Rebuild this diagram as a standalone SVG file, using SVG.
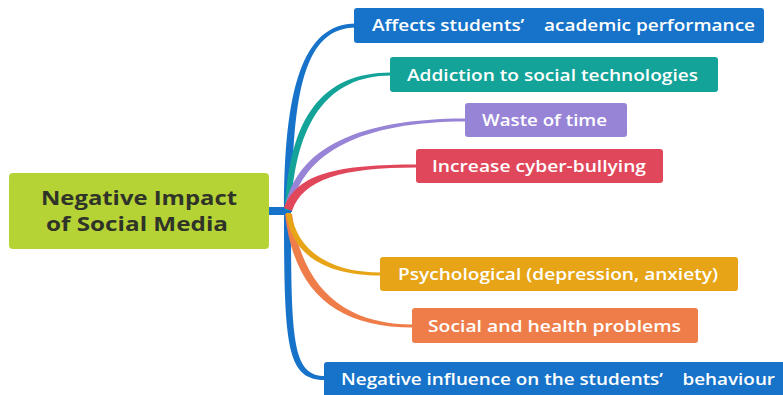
<svg xmlns="http://www.w3.org/2000/svg" width="783" height="395" viewBox="0 0 783 395">
  <style>
    .node-box { stroke: none; }
    .label { font-family: "Open Sans", "Noto Sans", "Liberation Sans", sans-serif; font-weight: 600; font-size: 16px; fill: #ffffff; }
    .root-label { font-family: "Open Sans", "Noto Sans", "Liberation Sans", sans-serif; font-weight: 700; font-size: 20px; fill: #2f3328; text-anchor: middle; }
    .blue { fill: #1673c9; }
    .teal { fill: #13a398; }
    .purple { fill: #9784d6; }
    .red { fill: #e1475b; }
    .amber { fill: #e6a416; }
    .orange { fill: #ee7d4a; }
    .lime { fill: #b6d336; }
  </style>

  <rect width="783" height="395" fill="#ffffff"/>

  <!-- tapered branches from the central topic -->
  <g id="connectors">
    <rect class="blue" x="268" y="207" width="21" height="8"/>
    <path class="blue" d="M 284 212 C 284 90 302 23.5 356 23.5 L 356 27.5 C 305 27.5 292 90 292 212 Z"/>
    <path class="blue" d="M 284 210 C 284 345 286 380 325 380 L 325 376 C 292 376 291 340 291 210 Z"/>
    <path class="orange" d="M 285 214 C 294 292 336 327.5 413 327.5 L 413 324.5 C 344 324.5 302 288 292 214 Z"/>
    <path class="amber" d="M 286 213 C 292 257 328 275.5 381 275.5 L 381 272.5 C 332 272.5 298 253 291 213 Z"/>
    <path class="teal" d="M 285 210 C 289 118 322 72.5 391 72.5 L 391 75.5 C 328 75.5 295 122 291 210 Z"/>
    <path class="purple" d="M 285 207 C 297 148 358 118.5 466 118.5 L 466 121.5 C 362 121.5 303 152 291 209 Z"/>
    <path class="red" d="M 284 208 C 297 173 338 164.5 417 164.5 L 417 167.5 C 342 167.5 303 179 292 211 Z"/>
  </g>

  <g id="root">
    <rect class="node-box lime" x="9" y="173" width="260" height="76" rx="4"/>
    <text class="root-label" x="139" y="205" textLength="196" lengthAdjust="spacingAndGlyphs">Negative Impact</text>
    <text class="root-label" x="137" y="231" textLength="182" lengthAdjust="spacingAndGlyphs">of Social Media</text>
  </g>

  <g id="academic">
    <rect class="node-box blue" x="354" y="8" width="410" height="35" rx="3"/>
    <text class="label" x="372" y="31" textLength="383" lengthAdjust="spacingAndGlyphs">Affects students’&#160;&#160;&#160; academic performance</text>
  </g>

  <g id="addiction">
    <rect class="node-box teal" x="390" y="57" width="328" height="35" rx="3"/>
    <text class="label" x="407" y="80.5" textLength="291" lengthAdjust="spacingAndGlyphs">Addiction to social technologies</text>
  </g>

  <g id="waste">
    <rect class="node-box purple" x="465" y="103" width="162" height="34" rx="3"/>
    <text class="label" x="482" y="125.5" textLength="125" lengthAdjust="spacingAndGlyphs">Waste of time</text>
  </g>

  <g id="cyberbullying">
    <rect class="node-box red" x="416" y="149" width="247" height="34" rx="3"/>
    <text class="label" x="432" y="171.5" textLength="214" lengthAdjust="spacingAndGlyphs">Increase cyber-bullying</text>
  </g>

  <g id="psychological">
    <rect class="node-box amber" x="380" y="257" width="358" height="34" rx="3"/>
    <text class="label" x="398" y="279.5" textLength="320" lengthAdjust="spacingAndGlyphs">Psychological (depression, anxiety)</text>
  </g>

  <g id="health">
    <rect class="node-box orange" x="412" y="308" width="286" height="35" rx="3"/>
    <text class="label" x="428" y="331.5" textLength="253" lengthAdjust="spacingAndGlyphs">Social and health problems</text>
  </g>

  <g id="behaviour">
    <rect class="node-box blue" x="324" y="362" width="470" height="40" rx="3"/>
    <text class="label" x="341" y="385" textLength="434" lengthAdjust="spacingAndGlyphs">Negative influence on the students’&#160;&#160;&#160; behaviour</text>
  </g>
</svg>
